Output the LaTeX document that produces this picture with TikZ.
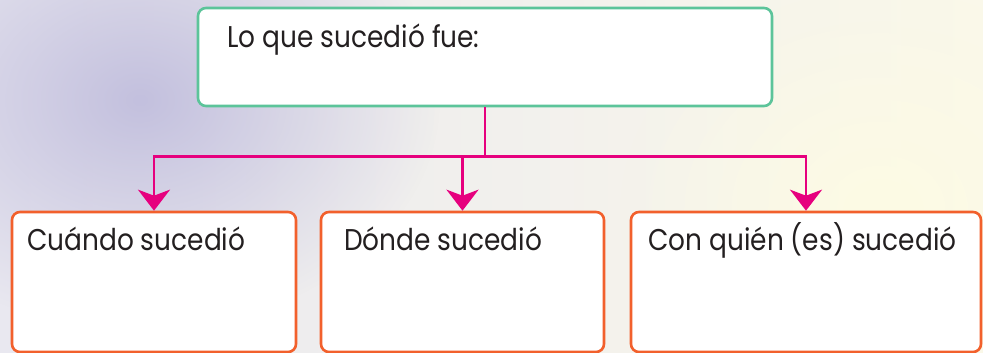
\documentclass[tikz,border=0pt]{standalone}
\usepackage{fontspec}
\setmainfont{Poppins}[FakeStretch=0.88]
\usetikzlibrary{arrows.meta,fadings}
\definecolor{bgL}{HTML}{E9E8F0}
\definecolor{bgR}{HTML}{FAF8EA}
\definecolor{lav}{HTML}{C3C0DE}
\definecolor{cream}{HTML}{FDFBE4}
\definecolor{mint}{HTML}{5CC49A}
\definecolor{orng}{HTML}{F2602C}
\definecolor{magn}{HTML}{E6007E}
\definecolor{ink}{HTML}{231F20}
\tikzfading[name=blob, inner color=transparent!0, outer color=transparent!100]
\tikzset{
  box/.style={draw, line width=2.6pt, fill=white, rounded corners=8pt, inner sep=0pt},
  topbox/.style={box, draw=mint},
  lowbox/.style={box, draw=orng},
  txt/.style={anchor=base west, inner sep=0pt, text=ink, font=\fontsize{30}{36}\selectfont},
  conn/.style={draw=magn, line width=2.6pt},
  arr/.style={conn, -{Stealth[length=21pt, width=32pt, inset=6pt]}}
}
\begin{document}
\begin{tikzpicture}[x=1pt,y=-1pt]
\useasboundingbox (0,0) rectangle (983,353);
\shade[left color=bgL, right color=bgR] (0,0) rectangle (983,353);
\fill[lav, path fading=blob] (140,100) ellipse [x radius=300, y radius=230];
\fill[cream, path fading=blob] (880,210) ellipse [x radius=260, y radius=220];
\node[topbox, minimum width=574pt, minimum height=98pt] (top) at (485,57) {};
\node[lowbox, minimum width=284pt, minimum height=140pt] (b1) at (154,282) {};
\node[lowbox, minimum width=283pt, minimum height=140pt] (b2) at (462.5,282) {};
\node[lowbox, minimum width=350pt, minimum height=140pt] (b3) at (806,282) {};
\node[txt] (t0) at (227,48) {Lo que sucedió fue:};
\node[txt] (t1) at (27,250) {Cuándo sucedió};
\node[txt] (t2) at (344,250) {Dónde sucedió};
\node[txt] (t3) at (648,250) {Con quién (es) sucedió};
\path (top.south) ++(0,49) coordinate (j);
\draw[conn] (top.south) -- (j);
\draw[arr] (j) -| (b1.north);
\draw[arr] (j) -| (b3.north);
\draw[arr] (j -| b2.north) -- (b2.north);
\end{tikzpicture}
\end{document}
